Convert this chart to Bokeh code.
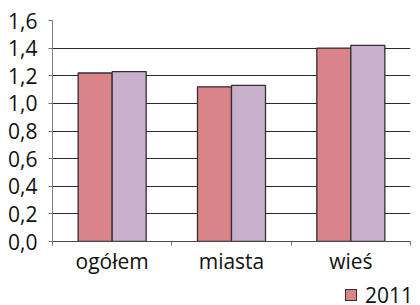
from bokeh.plotting import figure
from bokeh.layouts import column
from bokeh.models import (Range1d, FixedTicker, CustomJSTickFormatter, Div,
                          ColumnDataSource)
from bokeh.transform import dodge
from bokeh.embed import file_html
from bokeh.resources import INLINE

categories = ["ogółem", "miasta", "wieś"]
values_2011 = [1.22, 1.12, 1.40]
values_other = [1.23, 1.13, 1.42]
y_ticks = [0.0, 0.2, 0.4, 0.6, 0.8, 1.0, 1.2, 1.4, 1.6]
legend_label = "2011"

COLOR_A = "#DA8389"
COLOR_B = "#C9B1CD"
EDGE = "#303030"

x_pos = [i + 0.5 for i in range(len(categories))]
source = ColumnDataSource(data=dict(x=x_pos, a=values_2011, b=values_other))

FONT = "Open Sans"
FS = "21px"
p = figure(width=420, height=283, output_backend="svg", toolbar_location=None,
           x_range=Range1d(0, len(categories)), y_range=Range1d(0, 1.6),
           min_border_left=52, min_border_right=10, min_border_top=20, min_border_bottom=42)
p.outline_line_color = None
p.background_fill_color = "white"
p.border_fill_color = "white"

bw = 0.285
r1 = p.vbar(x=dodge("x", -bw / 2), top="a", width=bw, source=source,
            fill_color=COLOR_A, line_color=EDGE, line_width=1.3)
r2 = p.vbar(x=dodge("x", bw / 2), top="b", width=bw, source=source,
            fill_color=COLOR_B, line_color=EDGE, line_width=1.3)

# x axis: labels at category centres, tick marks at boundaries
xa = p.xaxis[0]
xa.ticker = FixedTicker(ticks=x_pos, minor_ticks=list(range(len(categories) + 1)))
xa.major_label_overrides = {x: c for x, c in zip(x_pos, categories)}
xa.major_tick_line_color = None
xa.minor_tick_out = 4
xa.minor_tick_in = 0
xa.minor_tick_line_color = "#6f6f6f"
xa.axis_line_color = "#4a4a4a"
xa.major_label_text_font = FONT
xa.major_label_text_font_size = FS
xa.major_label_text_color = "#111111"
xa.major_label_standoff = -1

ya = p.yaxis[0]
ya.ticker = FixedTicker(ticks=y_ticks)
ya.formatter = CustomJSTickFormatter(code="return tick.toFixed(1).replace('.', ',');")
ya.major_tick_out = 4
ya.major_tick_in = 0
ya.minor_tick_line_color = None
ya.major_tick_line_color = "#6f6f6f"
ya.axis_line_color = "#7f7f7f"
ya.major_label_text_font = FONT
ya.major_label_text_font_size = FS
ya.major_label_text_color = "#111111"
ya.major_label_standoff = 11

p.xgrid.grid_line_color = None
p.ygrid.ticker = FixedTicker(ticks=y_ticks)
p.ygrid.grid_line_color = "#2a2a2a"
p.ygrid.grid_line_width = 1

legend_html = (
    f'<div style="display:flex;align-items:center;height:22px;padding-top:2px;'
    f'margin-left:345px;font-family:\'{FONT}\';font-size:{FS};color:#111111;'
    f'white-space:nowrap;line-height:22px">'
    f'<span style="display:inline-block;width:12px;height:12px;background:{COLOR_A};'
    f'border:1px solid {EDGE};margin-right:8px"></span>{legend_label}</div>'
)
legend_div = Div(text=legend_html, width=420, height=22, margin=0)

layout = column(p, legend_div, spacing=0)

open("out.html", "w").write(file_html(layout, INLINE))
